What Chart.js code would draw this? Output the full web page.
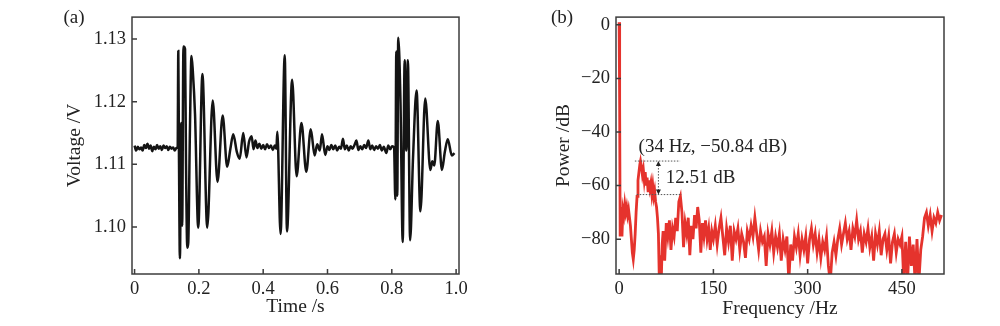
<!DOCTYPE html>
<html>
<head>
<meta charset="utf-8">
<script src="https://cdn.jsdelivr.net/npm/chart.js@4"></script>
<style>
  body { margin: 0; background: #fff; }
  .panel { position: absolute; top: 0; width: 500px; height: 326px; }
</style>
</head>
<body>
<div class="panel" style="left:0"><canvas id="chartTime" width="500" height="326"></canvas></div>
<div class="panel" style="left:500px"><canvas id="chartFreq" width="500" height="326"></canvas></div>
<script>
// (a) voltage signal
const timeS = [
  0.000, 0.005, 0.010, 0.015, 0.020, 0.025, 0.030, 0.035, 0.040, 0.045,
  0.050, 0.055, 0.060, 0.065, 0.070, 0.075, 0.080, 0.085, 0.090, 0.095,
  0.100, 0.105, 0.110, 0.115, 0.120, 0.125, 0.130, 0.134,
  0.136, 0.138, 0.141, 0.145, 0.148, 0.152, 0.157, 0.160, 0.164, 0.167,
  0.172, 0.177, 0.181, 0.188, 0.198, 0.211, 0.226, 0.243, 0.258, 0.274,
  0.288, 0.298, 0.307, 0.318, 0.327, 0.338, 0.348, 0.356, 0.364, 0.370,
  0.376, 0.382, 0.388, 0.394, 0.400, 0.406, 0.412, 0.418, 0.424, 0.430,
  0.436, 0.441, 0.444, 0.454, 0.467, 0.474, 0.490, 0.504, 0.519, 0.534,
  0.548, 0.560, 0.568, 0.576, 0.583, 0.593, 0.600, 0.606, 0.612, 0.618,
  0.624, 0.630, 0.636, 0.642, 0.648, 0.654, 0.660, 0.666, 0.672, 0.678,
  0.684, 0.690, 0.696, 0.702, 0.708, 0.714, 0.720, 0.727, 0.733, 0.739,
  0.745, 0.751, 0.757, 0.763, 0.769, 0.775, 0.783, 0.789, 0.795, 0.801,
  0.807, 0.811, 0.814, 0.817, 0.820, 0.827, 0.834, 0.840, 0.845, 0.850,
  0.857, 0.866, 0.877, 0.889, 0.904, 0.920, 0.926, 0.932, 0.943, 0.956,
  0.965, 0.974, 0.987, 0.995
];
const voltageV = [
  1.1130, 1.1122, 1.1128, 1.1124, 1.1127, 1.1122, 1.1131, 1.1126, 1.1133, 1.1125,
  1.1130, 1.1121, 1.1128, 1.1124, 1.1131, 1.1125, 1.1129, 1.1123, 1.1130, 1.1126,
  1.1129, 1.1123, 1.1128, 1.1125, 1.1127, 1.1122, 1.1126, 1.1128,
  1.1281, 1.1120, 1.0950, 1.1166, 1.1002, 1.1288, 1.1284, 1.1100, 1.0967, 1.0975,
  1.1150, 1.1273, 1.1250, 1.1180, 1.0999, 1.1244, 1.0999, 1.1202, 1.1072, 1.1178,
  1.1096, 1.1125, 1.1148, 1.1120, 1.1109, 1.1150, 1.1111, 1.1136, 1.1145, 1.1124,
  1.1138, 1.1126, 1.1133, 1.1125, 1.1131, 1.1124, 1.1132, 1.1126, 1.1130, 1.1123,
  1.1130, 1.1125, 1.1152, 1.0989, 1.1274, 1.0993, 1.1235, 1.1081, 1.1166, 1.1088,
  1.1156, 1.1114, 1.1132, 1.1122, 1.1148, 1.1115, 1.1129, 1.1123, 1.1131, 1.1124,
  1.1130, 1.1122, 1.1128, 1.1125, 1.1141, 1.1124, 1.1130, 1.1122, 1.1129, 1.1125,
  1.1131, 1.1138, 1.1123, 1.1129, 1.1124, 1.1131, 1.1126, 1.1138, 1.1124, 1.1130,
  1.1123, 1.1129, 1.1125, 1.1131, 1.1122, 1.1128, 1.1118, 1.1130, 1.1124, 1.1129,
  1.1127, 1.1044, 1.1280, 1.1050, 1.1302, 1.1200, 1.0976, 1.1266, 1.1122, 1.1266,
  1.0979, 1.1110, 1.1218, 1.1025, 1.1205, 1.1091, 1.1105, 1.1098, 1.1169, 1.1091,
  1.1120, 1.1140, 1.1114, 1.1118
];
const timeTicks = [0, 0.2, 0.4, 0.6, 0.8, 1.0];
const voltTicks = [1.10, 1.11, 1.12, 1.13];

// (b) power spectrum
const freqHz = [
  0, 0.8, 1.6, 3, 4.5, 6, 7.5, 9, 10.5, 12, 13.5, 15, 16.5, 18, 19.5, 21, 22.5, 24,
  25.5, 27, 28.5, 30, 31.5, 33, 34, 35.5, 37, 38.5, 40, 41.5, 43, 44.5, 46, 47.5,
  49, 50.5, 52, 53.5, 55, 56.5, 58, 59.5, 61, 62.5, 64, 65.5, 67, 68.5,
  70, 72.5, 75, 77.5, 80, 82.5, 85, 87.5, 90, 92.5, 95, 97.5, 100, 102.5, 105, 107.5,
  110, 112.5, 115, 117.5, 120, 122.5, 125, 127.5, 130, 132.5, 135, 137.5, 140, 142.5,
  145, 147.5,
  150, 153, 156, 159, 162, 165, 168, 171, 174, 177, 180, 183, 186, 189, 192, 195,
  198, 201, 204, 207, 210, 213, 216, 219, 222, 225, 228, 231, 234, 237, 240, 243,
  246, 249, 252, 255, 258, 261, 264, 267, 270, 273, 276, 279, 282, 285, 288, 291,
  294, 297, 300, 303, 306, 309, 312, 315, 318, 321, 324, 327, 330, 333, 336, 339,
  342, 345, 348, 351, 354, 357, 360, 363, 366, 369, 372, 375, 378, 381, 384, 387,
  390, 393, 396, 399, 402, 405, 408, 411, 414, 417, 420, 423, 426, 429, 432, 435,
  438, 441, 444, 447, 450, 453, 456, 459, 462, 465, 468, 471, 474, 477, 480, 483,
  486, 489, 492, 495, 498, 501, 504, 507, 510, 513
];
const powerDb = [
  1, -30, -79, -68, -79, -69, -71, -67, -70, -68, -71, -69, -72, -75, -80, -85, -87.5, -84,
  -78, -70, -64, -58, -55, -52, -50.84, -53, -56, -54, -58, -55, -60, -57, -62, -58,
  -61, -59, -63, -60, -64, -62, -66, -68, -72, -78, -96, -86, -96, -82,
  -77, -88, -74, -79, -73, -84, -76, -79, -72, -77, -66, -64, -70, -83, -74, -78,
  -72, -86, -75, -80, -71, -76, -68, -73, -85, -74, -79, -73, -80, -76,
  -84, -77,
  -80, -75, -82, -76, -72, -79, -86, -76, -81, -75, -88, -77, -80, -76, -84, -78,
  -81, -87, -77, -80, -75, -79, -72, -78, -84, -77, -81, -79, -90, -78, -82, -77,
  -85, -79, -83, -78, -88, -80, -84, -79, -96, -82, -88, -79, -83, -78, -86, -80,
  -84, -79, -89, -80, -76, -82, -78, -85, -80, -87, -81, -84, -79, -90, -96, -85,
  -81, -86, -80, -76, -82, -78, -74, -80, -77, -84, -76, -79, -73, -80, -77, -85,
  -78, -81, -76, -83, -79, -88, -78, -82, -77, -86, -80, -78, -84, -79, -89, -81,
  -78, -85, -80, -82, -79, -96, -81, -96, -79, -90, -82, -96, -80, -96, -84, -79,
  -72, -70, -75, -71, -77, -72, -74, -70, -73, -71
];
const freqTicks = [0, 150, 300, 450];
const dbTicks = [0, -20, -40, -60, -80];

// annotation values
const peakHz = 34;
const peakDb = -50.84;
const dropDb = 12.51;

const FONT = '"Liberation Serif", "Times New Roman", serif';
const INK = '#222';

const framePlugin = {
  id: 'frame',
  afterDatasetsDraw(chart, args, opts) {
    const {ctx, chartArea: a, scales: {x, y}} = chart;
    ctx.save();
    ctx.strokeStyle = '#3c3c3c';
    ctx.lineWidth = 1.5;
    ctx.strokeRect(a.left, a.top, a.right - a.left, a.bottom - a.top);
    ctx.beginPath();
    x.ticks.forEach(t => {
      const px = x.getPixelForValue(t.value);
      ctx.moveTo(px, a.bottom); ctx.lineTo(px, a.bottom - 5);
    });
    y.ticks.forEach(t => {
      const py = y.getPixelForValue(t.value);
      ctx.moveTo(a.left, py); ctx.lineTo(a.left + 5, py);
    });
    ctx.stroke();
    ctx.fillStyle = INK;
    ctx.font = '19px ' + FONT;
    ctx.textAlign = 'center';
    ctx.textBaseline = 'middle';
    ctx.fillText(opts.tag, opts.tagX, opts.tagY);
    ctx.restore();
  }
};

const peakPlugin = {
  id: 'peak',
  afterDatasetsDraw(chart) {
    const {ctx, scales: {x, y}} = chart;
    const yTop = y.getPixelForValue(peakDb);
    const yLow = y.getPixelForValue(peakDb - dropDb);
    const xa = x.getPixelForValue(62.5);
    ctx.save();
    ctx.strokeStyle = '#555';
    ctx.lineWidth = 1;
    ctx.setLineDash([1.5, 1.5]);
    ctx.beginPath();
    ctx.moveTo(x.getPixelForValue(25), yTop); ctx.lineTo(x.getPixelForValue(97), yTop);
    ctx.moveTo(x.getPixelForValue(28), yLow); ctx.lineTo(x.getPixelForValue(100), yLow);
    ctx.moveTo(xa, yTop + 4); ctx.lineTo(xa, yLow - 4);
    ctx.stroke();
    ctx.setLineDash([]);
    ctx.fillStyle = '#222';
    ctx.beginPath();
    ctx.moveTo(xa, yTop); ctx.lineTo(xa - 2.5, yTop + 5); ctx.lineTo(xa + 2.5, yTop + 5); ctx.closePath();
    ctx.moveTo(xa, yLow); ctx.lineTo(xa - 2.5, yLow - 5); ctx.lineTo(xa + 2.5, yLow - 5); ctx.closePath();
    ctx.fill();
    ctx.fillStyle = INK;
    ctx.font = '19px ' + FONT;
    ctx.textBaseline = 'middle';
    ctx.textAlign = 'left';
    ctx.fillText('(' + peakHz + ' Hz, \u2212' + Math.abs(peakDb).toFixed(2) + ' dB)',
      x.getPixelForValue(31), y.getPixelForValue(-45.6));
    ctx.fillText(dropDb.toFixed(2) + ' dB', x.getPixelForValue(74), y.getPixelForValue(-57.1));
    ctx.restore();
  }
};

function makeChart(id, o) {
  const points = o.xs.map((v, i) => ({x: v, y: o.ys[i]}));
  return new Chart(document.getElementById(id).getContext('2d'), {
    type: 'line',
    data: {
      datasets: [{
        data: points,
        borderColor: o.color,
        borderWidth: o.width,
        pointRadius: 0,
        cubicInterpolationMode: o.smooth ? 'monotone' : 'default',
        tension: 0,
        fill: false
      }]
    },
    options: {
      responsive: false,
      animation: false,
      devicePixelRatio: 1,
      layout: {padding: o.pad},
      plugins: {
        legend: {display: false},
        tooltip: {enabled: false},
        frame: {tag: o.tag, tagX: o.tagX, tagY: o.tagY}
      },
      scales: {
        x: {
          type: 'linear',
          min: o.xMin, max: o.xMax,
          grid: {display: false, drawTicks: false},
          border: {display: false},
          afterBuildTicks: s => { s.ticks = o.xTicks.map(v => ({value: v})); },
          afterFit: s => { s.height = 52; },
          ticks: {
            padding: 4, color: INK, font: {family: FONT, size: 18.5},
            maxRotation: 0, autoSkip: false,
            callback: o.xFmt
          },
          title: {display: true, text: o.xTitle, color: INK,
            font: {family: FONT, size: 19.5}, padding: {top: 0, bottom: o.xTitlePad}}
        },
        y: {
          type: 'linear',
          min: o.yMin, max: o.yMax,
          grid: {display: false, drawTicks: false},
          border: {display: false},
          afterBuildTicks: s => { s.ticks = o.yTicks.map(v => ({value: v})); },
          afterFit: s => { s.width = o.yWidth; },
          ticks: {
            padding: 6, color: INK, font: {family: FONT, size: 18.5},
            autoSkip: false,
            callback: o.yFmt
          },
          title: {display: true, text: o.yTitle, color: INK,
            font: {family: FONT, size: 19.5}, padding: {top: o.yTitlePad, bottom: 0}}
        }
      }
    },
    plugins: o.plugins
  });
}

makeChart('chartTime', {
  xs: timeS, ys: voltageV, color: '#141414', width: 2.5, smooth: true,
  xMin: -0.008, xMax: 1.009, yMin: 1.0925, yMax: 1.1335,
  xTicks: timeTicks, yTicks: voltTicks,
  xFmt: v => v === 0 ? '0' : v.toFixed(1),
  yFmt: v => v.toFixed(2),
  xTitle: 'Time /s', yTitle: 'Voltage /V',
  xTitlePad: 7, yTitlePad: 63, yWidth: 132,
  pad: {left: 0, right: 41, top: 12, bottom: 0},
  tag: '(a)', tagX: 74, tagY: 18,
  plugins: [framePlugin]
});

makeChart('chartFreq', {
  xs: freqHz, ys: powerDb, color: '#e5332d', width: 2.8, smooth: false,
  xMin: -5, xMax: 517, yMin: -93, yMax: 2.9,
  xTicks: freqTicks, yTicks: dbTicks,
  xFmt: v => String(v),
  yFmt: v => v < 0 ? '\u2212' + Math.abs(v) : String(v),
  xTitle: 'Frequency /Hz', yTitle: 'Power /dB',
  xTitlePad: 5, yTitlePad: 52, yWidth: 116,
  pad: {left: 0, right: 56, top: 9, bottom: 0},
  tag: '(b)', tagX: 62, tagY: 18,
  plugins: [framePlugin, peakPlugin]
});
</script>
</body>
</html>
